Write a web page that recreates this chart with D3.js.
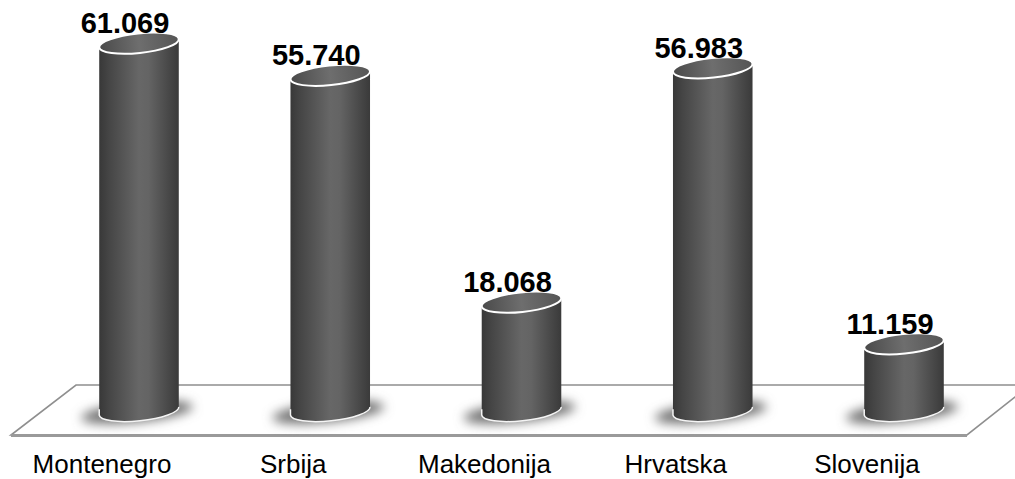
<!DOCTYPE html>
<html>
<head>
<meta charset="utf-8">
<script src="https://cdn.jsdelivr.net/npm/d3@7/dist/d3.min.js"></script>
<style>
  html, body { margin: 0; padding: 0; background: #ffffff; }
  svg { display: block; }
</style>
</head>
<body>
<script>
const categories = ["Montenegro", "Srbija", "Makedonija", "Hrvatska", "Slovenija"];
const values = [61.069, 55.740, 18.068, 56.983, 11.159];
const valueLabels = ["61.069", "55.740", "18.068", "56.983", "11.159"];

const W = 1015, H = 479;
const svg = d3.select("body").append("svg").attr("width", W).attr("height", H);
const defs = svg.append("defs");

const x = d3.scalePoint().domain(categories).range([139, 904]);
const y = d3.scaleLinear().domain([0, 65]).range([411, 19.5]);

const RX = 40, RY = 9.8, TILT = -6;
const th = TILT * Math.PI / 180;
const ex = RX * Math.cos(th), ey = -RX * Math.sin(th);

const gBody = defs.append("linearGradient").attr("id", "gBody")
  .attr("x1", "0").attr("x2", "1").attr("y1", "0").attr("y2", "0");
[[0, "#383838"], [0.12, "#454545"], [0.5, "#676767"], [0.62, "#646464"], [0.88, "#474747"], [1, "#3a3a3a"]]
  .forEach(([o, c]) => gBody.append("stop").attr("offset", o).attr("stop-color", c));

const gTop = defs.append("linearGradient").attr("id", "gTop")
  .attr("x1", "0").attr("x2", "1").attr("y1", "0").attr("y2", "0");
[[0, "#4a4a4a"], [0.5, "#6e6e6e"], [1, "#555555"]]
  .forEach(([o, c]) => gTop.append("stop").attr("offset", o).attr("stop-color", c));

const blur = defs.append("filter").attr("id", "blur")
  .attr("x", "-50%").attr("y", "-100%").attr("width", "200%").attr("height", "300%");
blur.append("feGaussianBlur").attr("stdDeviation", 5.5);

const base = y(0);
const floorTop = 385, floorBot = 435;
const floorPts = [[76, floorTop], [1030, floorTop], [967, floorBot], [11, floorBot]];
svg.append("path")
  .attr("d", "M" + floorPts.map(p => p.join(",")).join("L") + "Z")
  .attr("fill", "#ffffff")
  .attr("stroke", "#8f8f8f")
  .attr("stroke-width", 1.6);
svg.append("line")
  .attr("x1", 11).attr("x2", 967).attr("y1", floorBot + 0.5).attr("y2", floorBot + 0.5)
  .attr("stroke", "#9a9a9a").attr("stroke-width", 3);

const bars = svg.selectAll("g.bar").data(categories.map((c, i) => ({ c, v: values[i], label: valueLabels[i] })))
  .enter().append("g").attr("class", "bar");

bars.append("ellipse")
  .attr("cx", d => x(d.c) - 2)
  .attr("cy", base + 1)
  .attr("rx", 56).attr("ry", 10)
  .attr("transform", d => `rotate(${TILT},${x(d.c)},${base + 1})`)
  .attr("fill", "#707070")
  .attr("filter", "url(#blur)");

bars.append("path")
  .attr("d", d => {
    const cx = x(d.c), yt = y(d.v);
    return `M${cx - ex},${yt + ey} L${cx - ex},${base + ey} ` +
      `A${RX},${RY} ${TILT} 0 0 ${cx + ex},${base - ey} L${cx + ex},${yt - ey} Z`;
  })
  .attr("fill", "url(#gBody)");

bars.append("path")
  .attr("d", d => {
    const cx = x(d.c);
    return `M${cx - ex},${base + ey - 6} L${cx - ex},${base + ey} A${RX},${RY} ${TILT} 0 0 ${cx + ex},${base - ey}`;
  })
  .attr("fill", "none")
  .attr("stroke", "#f4f4f4")
  .attr("stroke-width", 1.5);

bars.append("ellipse")
  .attr("cx", d => x(d.c))
  .attr("cy", d => y(d.v))
  .attr("rx", RX).attr("ry", RY)
  .attr("transform", d => `rotate(${TILT},${x(d.c)},${y(d.v)})`)
  .attr("fill", "url(#gTop)")
  .attr("stroke", "#ffffff")
  .attr("stroke-width", 2);

bars.append("text")
  .attr("x", d => x(d.c) - 14)
  .attr("y", d => y(d.v) - 10)
  .attr("text-anchor", "middle")
  .attr("font-family", "Liberation Sans, Arial, sans-serif")
  .attr("font-weight", "bold")
  .attr("font-size", 29)
  .attr("fill", "#000")
  .text(d => d.label);

svg.selectAll("text.cat").data(categories).enter().append("text")
  .attr("class", "cat")
  .attr("x", d => x(d) - 37)
  .attr("y", 473)
  .attr("text-anchor", "middle")
  .attr("font-family", "Liberation Sans, Arial, sans-serif")
  .attr("font-size", 26)
  .attr("fill", "#000")
  .text(d => d);
</script>
</body>
</html>
